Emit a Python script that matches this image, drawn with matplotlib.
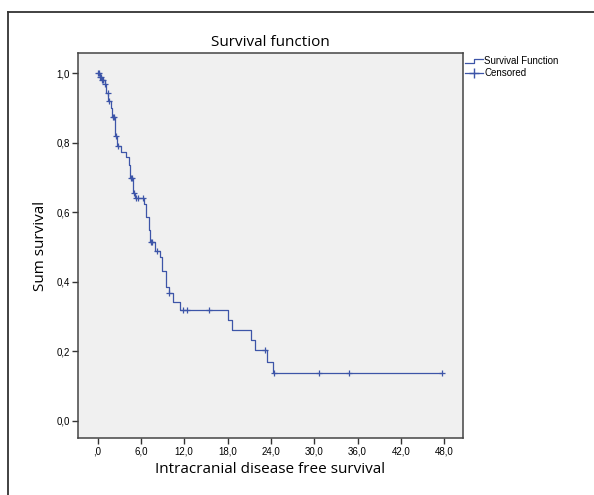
import matplotlib.pyplot as plt
import numpy as np
from matplotlib.legend_handler import HandlerBase
from matplotlib.lines import Line2D

# Kaplan-Meier step curve (time of drop, survival after drop)
event_times = [0.0, 0.3, 0.6, 1.0, 1.2, 1.5, 1.9, 2.0, 2.4, 2.7, 3.3, 4.0, 4.3, 4.5, 4.9, 5.2,
               6.4, 6.75, 7.1, 7.3, 8.0, 8.6, 8.9, 9.5, 9.85, 10.5, 11.45, 18.0, 18.6,
               21.2, 21.85, 23.45, 24.25]
survival = [1.0, 0.99, 0.98, 0.97, 0.945, 0.92, 0.90, 0.875, 0.82, 0.79, 0.775, 0.76, 0.735,
            0.70, 0.655, 0.64, 0.624, 0.587, 0.549, 0.515, 0.49, 0.472, 0.43, 0.386, 0.367,
            0.342, 0.32, 0.29, 0.26, 0.232, 0.203, 0.17, 0.136]
censored_times = [0.0, 0.15, 0.3, 0.45, 0.6, 0.8, 1.1, 1.4, 1.6, 2.1, 2.3, 2.5, 2.8, 4.6, 4.8,
                  5.0, 5.3, 5.6, 6.3, 7.4, 7.6, 8.2, 9.9, 11.8, 12.4, 15.5, 23.2, 24.4,
                  30.6, 34.8, 47.7]

x_ticks = [0, 6, 12, 18, 24, 30, 36, 42, 48]
x_labels = [",0", "6,0", "12,0", "18,0", "24,0", "30,0", "36,0", "42,0", "48,0"]
y_ticks = [0.0, 0.2, 0.4, 0.6, 0.8, 1.0]
y_labels = ["0,0", "0,2", "0,4", "0,6", "0,8", "1,0"]

LINE = "#3d55a8"
W, H = 594, 495


class StepHandler(HandlerBase):
    def create_artists(self, legend, orig, xd, yd, width, height, fontsize, trans):
        xs = [xd, xd + width * 0.5, xd + width * 0.5, xd + width]
        ys = [yd + height * 0.2, yd + height * 0.2, yd + height * 0.8, yd + height * 0.8]
        ln = Line2D(xs, ys, color=LINE, lw=0.9, transform=trans)
        return [ln]


fig = plt.figure(figsize=(W / 100, H / 100), dpi=100)
fig.patch.set_facecolor("white")
ax = fig.add_axes([78 / W, 1 - 438 / H, (463 - 78) / W, (438 - 53) / H])
ax.set_facecolor("#f0f0f0")

t = np.array(event_times + [censored_times[-1]])
s = np.array(survival + [survival[-1]])
ax.step(t, s, where="post", color=LINE, lw=0.9)

et = np.array(event_times)
sv = np.array(survival)
cens_y = [sv[np.searchsorted(et, c, side="right") - 1] for c in censored_times]
ax.plot(censored_times, cens_y, "+", color=LINE, ms=4.5, mew=0.9, ls="none")

ax.set_xlim(-2.7, 50.6)
ax.set_ylim(-0.05, 1.059)
ax.set_xticks(x_ticks)
ax.set_xticklabels(x_labels)
ax.set_yticks(y_ticks)
ax.set_yticklabels(y_labels)
ax.tick_params(length=4, width=1, color="#333333", labelsize=7, pad=2)
for lbl in ax.get_xticklabels() + ax.get_yticklabels():
    lbl.set_family("Liberation Sans")
for sp in ax.spines.values():
    sp.set_color("#444444")
    sp.set_linewidth(1.1)

ax.set_title("Survival function", fontsize=11, family="Open Sans", pad=5)
ax.set_xlabel("Intracranial disease free survival", fontsize=11, family="Open Sans", labelpad=4)
ax.set_ylabel("Sum survival", fontsize=11, family="Open Sans", labelpad=6)

h1 = Line2D([], [], color=LINE)
h2 = Line2D([], [], color=LINE, marker="+", lw=0.9, ms=7)
fig.legend([h1, h2], ["Survival Function", "Censored"], loc="upper left",
           bbox_to_anchor=(465 / W, 1 - 56 / H), frameon=False,
           prop={"family": "Liberation Sans", "size": 7}, handlelength=1.9,
           handletextpad=0.1, labelspacing=0.25, borderpad=0, borderaxespad=0,
           handler_map={h1: StepHandler()})

# outer frame
fig.add_artist(Line2D([8 / W, 8 / W], [1 - 12 / H, 0], color="#333333", lw=1.3))
fig.add_artist(Line2D([8 / W, 1], [1 - 12 / H, 1 - 12 / H], color="#333333", lw=1.3))

fig.savefig("out.png", dpi=100)
